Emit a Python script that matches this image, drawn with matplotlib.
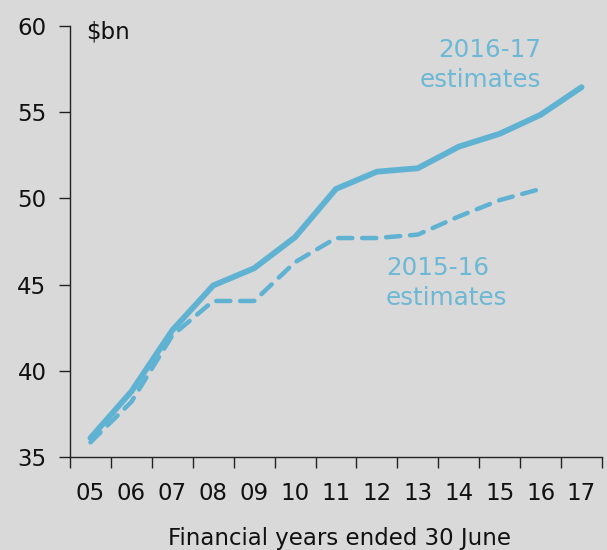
import matplotlib
matplotlib.use("Agg")
import matplotlib.pyplot as plt
from matplotlib.ticker import FixedLocator, NullFormatter

years = ["05", "06", "07", "08", "09", "10", "11", "12", "13", "14", "15", "16", "17"]
est_2016_17 = [36.1, 38.8, 42.35, 44.95, 45.95, 47.75, 50.55, 51.55, 51.75, 53.0, 53.75, 54.85, 56.45]
est_2015_16 = [35.85, 38.2, 42.05, 44.05, 44.05, 46.3, 47.7, 47.7, 47.9, 48.95, 49.9, 50.55]
yticks = [35, 40, 45, 50, 55, 60]

BG = "#d9d9d9"
LINE = "#60b2d2"
TXT = "#6cb8d5"
FONT = "DejaVu Sans"

plt.rcParams["font.family"] = [FONT]

fig = plt.figure(figsize=(6.07, 5.5), dpi=100, facecolor=BG)
ax = fig.add_axes([70 / 607, 1 - 457 / 550, (602 - 70) / 607, (457 - 26) / 550])
ax.set_facecolor(BG)

x = list(range(len(years)))
ax.plot(x, est_2016_17, color=LINE, lw=4.2, solid_capstyle="round", solid_joinstyle="round", zorder=3)
ax.plot(x[:len(est_2015_16)], est_2015_16, color=LINE, lw=3.2, ls=(0, (3.2, 2.2)),
        dash_capstyle="round", zorder=2)

ax.set_xlim(-0.5, len(years) - 0.5)
ax.set_ylim(35, 60)
ax.set_yticks(yticks)
ax.set_yticklabels([str(v) for v in yticks], fontsize=16.5, color="#111111")

ax.xaxis.set_major_locator(FixedLocator([i - 0.5 for i in range(len(years) + 1)]))
ax.xaxis.set_major_formatter(NullFormatter())
ax.xaxis.set_minor_locator(FixedLocator(x))
ax.set_xticklabels(years, minor=True, fontsize=16.5, color="#111111")
ax.tick_params(axis="x", which="major", direction="out", length=8, width=1, color="#222222")
ax.tick_params(axis="x", which="minor", length=0, pad=18)
ax.tick_params(axis="y", direction="out", length=8, width=1, color="#222222", pad=9)

for s in ["top", "right"]:
    ax.spines[s].set_visible(False)
for s in ["left", "bottom"]:
    ax.spines[s].set_color("#222222")
    ax.spines[s].set_linewidth(1)

ax.text(0.03, 0.985, "$bn", transform=ax.transAxes, fontsize=16.5, va="center", ha="left", color="#111111")

ax.annotate("2016-17\nestimates", xy=(541 / 607, 1 - 65 / 550), xycoords="figure fraction",
            ha="right", va="center", fontsize=17.7, color=TXT, linespacing=1.35)
ax.annotate("2015-16\nestimates", xy=(386 / 607, 1 - 283 / 550), xycoords="figure fraction",
            ha="left", va="center", fontsize=17.7, color=TXT, linespacing=1.35)

fig.text(340 / 607, 1 - 538 / 550, "Financial years ended 30 June", ha="center", va="center",
         fontsize=16.5, color="#111111")

fig.savefig("out.png", dpi=100, facecolor=BG)
